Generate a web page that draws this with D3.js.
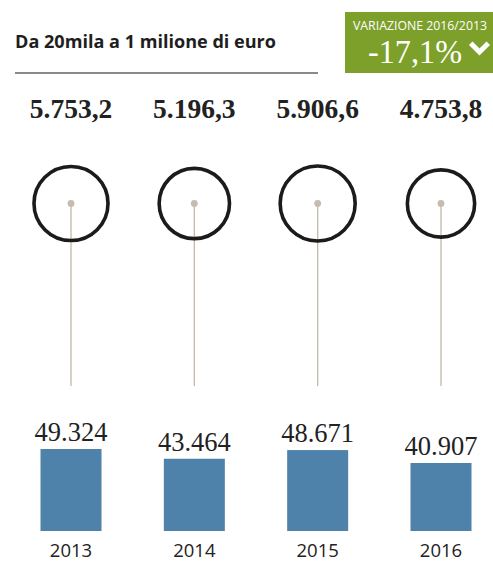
<!DOCTYPE html>
<html>
<head>
<meta charset="utf-8">
<script src="https://cdnjs.cloudflare.com/ajax/libs/d3/7.8.5/d3.min.js"></script>
<style>
  body { margin: 0; background: #fff; }
  svg { display: block; }
</style>
</head>
<body>
<svg id="chart" width="493" height="562"></svg>
<script>
// data
var years = ["2013", "2014", "2015", "2016"];
var amounts = [5753.2, 5196.3, 5906.6, 4753.8];   // circles (top values)
var counts = [49324, 43464, 48671, 40907];        // bars
var variation = "-17,1%";

var it = d3.formatLocale({ decimal: ",", thousands: ".", grouping: [3], currency: ["€", ""] });
var fmtAmount = it.format(",.1f");
var fmtCount = it.format(",d");

var svg = d3.select("#chart");

// header
svg.append("text")
  .attr("x", 15).attr("y", 48)
  .attr("textLength", 261).attr("lengthAdjust", "spacingAndGlyphs")
  .style("font-family", "'Open Sans', sans-serif")
  .style("font-weight", "bold")
  .style("font-size", "17px")
  .style("fill", "#1e1e1e")
  .text("Da 20mila a 1 milione di euro");

svg.append("line")
  .attr("x1", 15).attr("x2", 318)
  .attr("y1", 73).attr("y2", 73)
  .style("stroke", "#8a8a8a")
  .style("stroke-width", 2);

// green box
var box = svg.append("g");
box.append("rect")
  .attr("x", 345).attr("y", 12)
  .attr("width", 148).attr("height", 61)
  .style("fill", "#7da02b");
box.append("text")
  .attr("x", 353).attr("y", 29.5)
  .attr("textLength", 134).attr("lengthAdjust", "spacingAndGlyphs")
  .style("font-family", "'Open Sans', sans-serif")
  .style("font-size", "12px")
  .style("fill", "#fff")
  .text("VARIAZIONE 2016/2013");
box.append("text")
  .attr("x", 368).attr("y", 63)
  .attr("textLength", 94).attr("lengthAdjust", "spacingAndGlyphs")
  .style("font-family", "'Liberation Serif', serif")
  .style("font-size", "33px")
  .style("fill", "#fff")
  .text(variation);
box.append("path")
  .attr("d", d3.line()([[472.5, 45], [479.5, 52], [486.5, 45]]))
  .style("fill", "none")
  .style("stroke", "#fff")
  .style("stroke-width", 5)
  .style("stroke-linecap", "square")
  .style("stroke-linejoin", "miter");

// scales
var x = d3.scalePoint().domain(years).range([71, 441]);
var r = d3.scaleSqrt().domain([0, d3.max(amounts)]).range([0, 37.5]);
var y = d3.scaleLinear().domain([0, d3.max(counts)]).range([531, 449]);
var barW = 61;
var cy = 203.5;

var cols = svg.selectAll("g.col")
  .data(years.map(function(d, i) { return { year: d, amount: amounts[i], count: counts[i] }; }))
  .enter().append("g")
  .attr("class", "col");

// top values
cols.append("text")
  .attr("x", function(d) { return x(d.year); })
  .attr("y", 118)
  .attr("text-anchor", "middle")
  .style("font-family", "'Liberation Serif', serif")
  .style("font-weight", "bold")
  .style("font-size", "27.5px")
  .style("fill", "#222")
  .text(function(d) { return fmtAmount(d.amount); });

// stems
cols.append("line")
  .attr("x1", function(d) { return x(d.year); })
  .attr("x2", function(d) { return x(d.year); })
  .attr("y1", cy).attr("y2", 386)
  .style("stroke", "#c2b9ad")
  .style("stroke-width", 1.3);

// circles
cols.append("circle")
  .attr("cx", function(d) { return x(d.year); })
  .attr("cy", cy)
  .attr("r", function(d) { return r(d.amount); })
  .style("fill", "none")
  .style("stroke", "#1c1a1a")
  .style("stroke-width", 3.6);

cols.append("circle")
  .attr("cx", function(d) { return x(d.year); })
  .attr("cy", cy)
  .attr("r", 3.4)
  .style("fill", "#c5bcae");

// bars
cols.append("rect")
  .attr("x", function(d) { return x(d.year) - barW / 2; })
  .attr("y", function(d) { return y(d.count); })
  .attr("width", barW)
  .attr("height", function(d) { return y(0) - y(d.count); })
  .style("fill", "#4f82aa");

cols.append("text")
  .attr("x", function(d) { return x(d.year); })
  .attr("y", function(d) { return y(d.count) - 8; })
  .attr("text-anchor", "middle")
  .style("font-family", "'Liberation Serif', serif")
  .style("font-size", "26.5px")
  .style("fill", "#222")
  .text(function(d) { return fmtCount(d.count); });

// years
cols.append("text")
  .attr("x", function(d) { return x(d.year); })
  .attr("y", 557)
  .attr("text-anchor", "middle")
  .style("font-family", "'Open Sans', sans-serif")
  .style("font-size", "18.5px")
  .style("fill", "#222")
  .text(function(d) { return d.year; });
</script>
</body>
</html>
